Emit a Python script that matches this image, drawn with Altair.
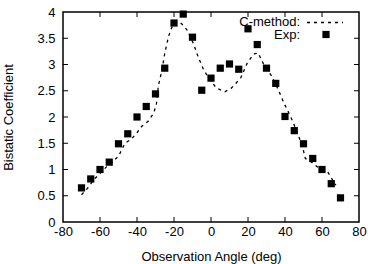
import altair as alt
import pandas as pd

# Measured bistatic coefficient (Exp) vs observation angle
exp_angle = [-70, -65, -60, -55, -50, -45, -40, -35, -30, -25, -20, -15, -10, -5,
             0, 5, 10, 15, 20, 25, 30, 35, 40, 45, 50, 55, 60, 65, 70]
exp_value = [0.65, 0.82, 1.00, 1.14, 1.49, 1.68, 2.00, 2.20, 2.44, 2.93, 3.79, 3.96, 3.52, 2.51,
             2.74, 2.93, 3.01, 2.91, 3.68, 3.38, 2.93, 2.64, 2.01, 1.74, 1.49, 1.21, 1.00, 0.73, 0.46]

# C-method computed curve
c_angle = [-70, -67, -63, -56.5, -50, -46.5, -43, -40, -37.5, -34, -31, -29.5, -28.5, -26.5,
           -25, -23, -21, -18.5, -16, -13, -9.5, -7, -4, -0.5, 3, 7.5, 11, 16, 19.5, 23,
           25.5, 28.5, 33, 36.5, 39.5, 43, 46.5, 49.5, 51, 54, 57.5, 63, 67.5]
c_value = [0.52, 0.63, 0.82, 1.05, 1.25, 1.50, 1.58, 1.70, 1.82, 1.92, 2.07, 2.25, 2.58, 2.90,
           3.21, 3.53, 3.72, 3.82, 3.78, 3.66, 3.40, 3.15, 2.90, 2.70, 2.55, 2.48, 2.55, 2.74, 3.02, 3.20,
           3.22, 3.00, 2.77, 2.51, 2.26, 2.01, 1.72, 1.43, 1.21, 1.15, 1.05, 0.96, 0.70]

# Tick positions (drawn inward, gnuplot style)
x_ticks = [-80, -60, -40, -20, 0, 20, 40, 60, 80]
x_inner = [-60, -40, -20, 0, 20, 40, 60]
y_ticks = [0, 0.5, 1, 1.5, 2, 2.5, 3, 3.5, 4]
y_inner = [0.5, 1, 1.5, 2, 2.5, 3, 3.5]

W, H = 296, 210
FONT = "Liberation Sans"
FS = 13

exp_df = pd.DataFrame({"angle": exp_angle, "value": exp_value})
c_df = pd.DataFrame({"angle": c_angle, "value": c_value})
xt_df = pd.DataFrame({"t": x_inner})
yt_df = pd.DataFrame({"t": y_inner})

xs = alt.Scale(domain=[-80, 80], nice=False, zero=False)
ys = alt.Scale(domain=[0, 4], nice=False, zero=False)

common = dict(domain=False, ticks=False, grid=False, labelOverlap=False, labelFlush=False,
              labelExpr="toString(datum.value)")
x_axis = alt.Axis(values=x_ticks, title="Observation Angle (deg)",
                  labelPadding=3, titlePadding=12, **common)
y_axis = alt.Axis(values=y_ticks, title="Bistatic Coefficient",
                  labelPadding=8, titlePadding=21, **common)

X = lambda f: alt.X(f, scale=xs, axis=x_axis)
Y = lambda f: alt.Y(f, scale=ys, axis=y_axis)

curve = alt.Chart(c_df).mark_line(color="black", strokeWidth=1.3, strokeDash=[3, 4]).encode(
    x=X("angle:Q"), y=Y("value:Q"))

points = alt.Chart(exp_df).mark_point(shape="square", filled=True, color="black",
                                      size=52, opacity=1).encode(
    x=X("angle:Q"), y=Y("value:Q"))

# inward ticks on all four sides
tick_style = dict(color="black", strokeWidth=1)
t_bottom = alt.Chart(xt_df).mark_rule(**tick_style).encode(
    x=X("t:Q"), y=alt.value(H), y2=alt.value(H - 5))
t_top = alt.Chart(xt_df).mark_rule(**tick_style).encode(
    x=X("t:Q"), y=alt.value(0), y2=alt.value(5))
t_left = alt.Chart(yt_df).mark_rule(**tick_style).encode(
    y=Y("t:Q"), x=alt.value(0), x2=alt.value(5))
t_right = alt.Chart(yt_df).mark_rule(**tick_style).encode(
    y=Y("t:Q"), x=alt.value(W), x2=alt.value(W - 5))

# key in the top-right corner
text_style = dict(align="right", baseline="middle", font=FONT, fontSize=FS, color="black")
key_one = pd.DataFrame({"k": [0]})
key_text1 = alt.Chart(key_one).mark_text(text="C-method:", **text_style).encode(
    x=alt.value(237), y=alt.value(10))
key_text2 = alt.Chart(key_one).mark_text(text="Exp:", **text_style).encode(
    x=alt.value(237), y=alt.value(22.5))
key_line = alt.Chart(key_one).mark_rule(
    color="black", strokeWidth=1.3, strokeDash=[3, 4]).encode(
    x=alt.value(244), x2=alt.value(280), y=alt.value(10.5))
key_point = alt.Chart(key_one).mark_point(
    shape="square", filled=True, color="black", size=52, opacity=1).encode(
    x=alt.value(263), y=alt.value(22.5))

chart = alt.layer(curve, points, t_bottom, t_top, t_left, t_right,
                  key_text1, key_text2, key_line, key_point).properties(
    width=W, height=H,
    autosize=alt.AutoSizeParams(type="none"),
    padding={"left": 63, "top": 12, "right": 9, "bottom": 42},
    background="white",
).configure_view(
    stroke="black", strokeWidth=1.5
).configure_axis(
    labelFont=FONT, labelFontSize=FS, labelColor="black",
    titleFont=FONT, titleFontSize=FS, titleColor="black", titleFontWeight="normal",
)

chart.save("out.html", embed_options={"renderer": "svg", "actions": False})
